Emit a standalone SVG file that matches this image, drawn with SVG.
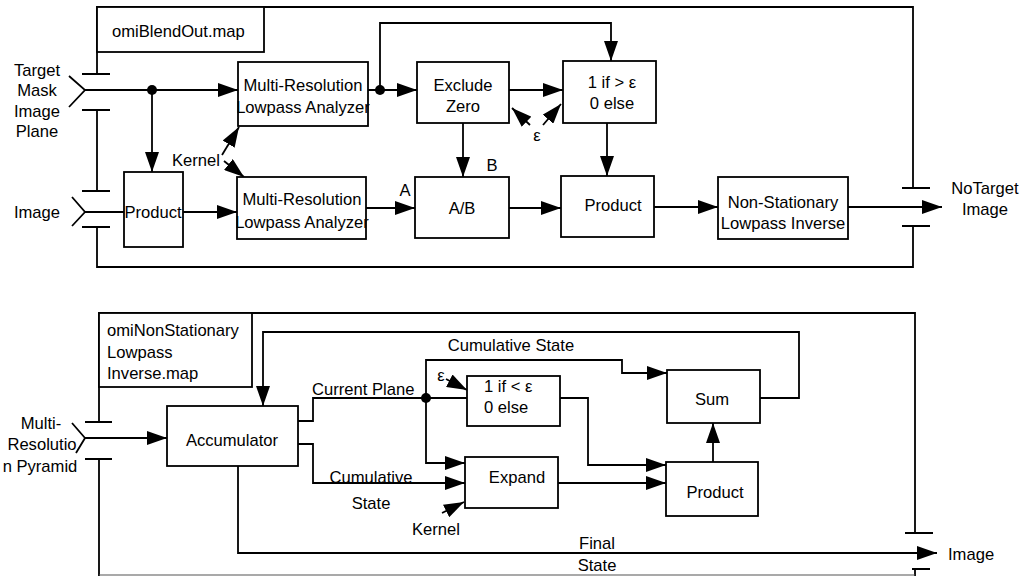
<svg xmlns="http://www.w3.org/2000/svg" width="1024" height="576" viewBox="0 0 1024 576">
<style>
text{font-family:"Liberation Sans",Arial,sans-serif;font-size:16.6px;fill:#000}
.box{fill:#fff;stroke:#000;stroke-width:1.8}
.ln{fill:none;stroke:#000;stroke-width:1.8}
.c{text-anchor:middle}
.ar{marker-end:url(#arr)}
</style>
<defs>
<marker id="arr" viewBox="0 0 20 14" refX="20" refY="7" markerWidth="20" markerHeight="14" markerUnits="userSpaceOnUse" orient="auto"><path d="M0,0 L20,7 L0,14 z" fill="#000"/></marker>
</defs>
<rect width="1024" height="576" fill="#fff"/>

<g id="frame-top">
<path class="ln" d="M97,74 V7 H913 V188 M97,110 V191 M97,227 V267 H913 V226"/>
<path class="ln" d="M82,74 H110 M82,110 H110 M82,191 H110 M82,227 H110 M902,188 H930 M902,226 H930"/>
<path class="ln" d="M69,76 L85,90 L69,107 M72,197 L85,212 L72,226"/>
</g>
<g id="label-top"><rect class="box" x="97" y="7" width="167" height="45"/><text x="112" y="37">omiBlendOut.map</text></g>
<g id="port-target"><text class="c" x="37" y="76">Target</text><text class="c" x="37" y="96">Mask</text><text class="c" x="37" y="117">Image</text><text class="c" x="37" y="137">Plane</text></g>
<g id="port-image"><text class="c" x="37" y="218">Image</text></g>
<g id="port-notarget"><text class="c" x="985" y="194">NoTarget</text><text class="c" x="985" y="215">Image</text></g>

<g id="connectors-top">
<path class="ln ar" d="M85,90 H238"/>
<path class="ln ar" d="M152,90 V172"/>
<path class="ln" d="M85,212 H124"/>
<path class="ln ar" d="M183,212 H237"/>
<path class="ln ar" d="M368,90 H417"/>
<path class="ln ar" d="M380,90 V23 H611 V61"/>
<path class="ln ar" d="M509,90 H563"/>
<path class="ln ar" d="M463,123 V177"/>
<path class="ln ar" d="M366,208 H415"/>
<path class="ln ar" d="M509,208 H561"/>
<path class="ln ar" d="M607,123 V176"/>
<path class="ln ar" d="M654,207 H718"/>
<path class="ln ar" d="M848,207 H942"/>
<path class="ln ar" d="M222,155 L239,127"/>
<path class="ln ar" d="M224,161 L244,177"/>
<path class="ln ar" d="M530,125 L512,108"/>
<path class="ln ar" d="M543,125 L561,104"/>
<circle cx="152" cy="90" r="5"/>
<circle cx="380" cy="90" r="5"/>
<text x="172" y="166">Kernel</text>
<text class="c" x="537" y="141">ε</text>
<text class="c" x="405" y="196">A</text>
<text class="c" x="492" y="171">B</text>
</g>

<g id="product1"><rect class="box" x="124" y="172" width="59" height="75"/><text class="c" x="153" y="218">Product</text></g>
<g id="mrla1"><rect class="box" x="238" y="62" width="130" height="64"/><text class="c" x="303" y="91">Multi-Resolution</text><text class="c" x="303" y="113">Lowpass Analyzer</text></g>
<g id="mrla2"><rect class="box" x="237" y="177" width="129" height="62"/><text class="c" x="302" y="205">Multi-Resolution</text><text class="c" x="302" y="228">Lowpass Analyzer</text></g>
<g id="exclude"><rect class="box" x="417" y="62" width="92" height="61"/><text class="c" x="463" y="91">Exclude</text><text class="c" x="463" y="112">Zero</text></g>
<g id="thresh1"><rect class="box" x="563" y="61" width="93" height="62"/><text class="c" x="612" y="88">1 if &gt; ε</text><text class="c" x="612" y="109">0 else</text></g>
<g id="ab"><rect class="box" x="415" y="177" width="94" height="61"/><text class="c" x="462" y="214">A/B</text></g>
<g id="product2"><rect class="box" x="561" y="176" width="93" height="61"/><text class="c" x="613" y="211">Product</text></g>
<g id="nslinv"><rect class="box" x="718" y="177" width="130" height="62"/><text class="c" x="783" y="208">Non-Stationary</text><text class="c" x="783" y="229">Lowpass Inverse</text></g>

<g id="frame-bottom">
<path class="ln" d="M99,422 V313 H915 V533 M99,459 V576 M915,569 V576"/>
<path class="ln" d="M85,422 H112 M85,459 H112 M905,533 H933 M912,569 H930"/>
<path d="M99,575 H915" stroke="#555" stroke-width="1.2" fill="none"/>
<path class="ln" d="M72,423 L85,438 L76,453"/>
</g>
<g id="label-bottom"><rect class="box" x="99" y="313" width="153" height="74"/><text x="107" y="336">omiNonStationary</text><text x="107" y="358">Lowpass</text><text x="107" y="379">Inverse.map</text></g>
<g id="port-pyramid"><text class="c" x="41" y="429">Multi-</text><text class="c" x="42" y="450">Resolutio</text><text class="c" x="40" y="472">n Pyramid</text></g>
<g id="port-out"><text x="948" y="560">Image</text></g>

<g id="connectors-bottom">
<path class="ln ar" d="M85,438 H167"/>
<path class="ln" d="M298,421 H313 V398 H467"/>
<path class="ln ar" d="M298,444 H313 V483 H465"/>
<path class="ln ar" d="M426,398 V463 H465"/>
<path class="ln ar" d="M426,398 V360 H622 V373 H667"/>
<path class="ln ar" d="M560,398 H588 V465 H666"/>
<path class="ln ar" d="M558,483 H666"/>
<path class="ln ar" d="M713,462 V423"/>
<path class="ln ar" d="M760,398 H799 V332 H263 V406"/>
<path class="ln ar" d="M238,466 V553 H937"/>
<path class="ln ar" d="M446,379 L467,390"/>
<path class="ln ar" d="M442,513 L464,502"/>
<circle cx="426" cy="398" r="5"/>
<text x="312" y="395">Current Plane</text>
<text class="c" x="511" y="351">Cumulative State</text>
<text class="c" x="371" y="483">Cumulative</text>
<text class="c" x="371" y="509">State</text>
<text class="c" x="436" y="535">Kernel</text>
<text class="c" x="441" y="381">ε</text>
<text class="c" x="597" y="549">Final</text>
<text class="c" x="597" y="571">State</text>
</g>

<g id="accumulator"><rect class="box" x="167" y="406" width="131" height="60"/><text class="c" x="232" y="446">Accumulator</text></g>
<g id="thresh2"><rect class="box" x="467" y="376" width="93" height="50"/><text x="484" y="392">1 if &lt; ε</text><text x="484" y="413">0 else</text></g>
<g id="expand"><rect class="box" x="465" y="457" width="93" height="51"/><text class="c" x="517" y="483">Expand</text></g>
<g id="sum"><rect class="box" x="667" y="370" width="93" height="53"/><text class="c" x="712" y="405">Sum</text></g>
<g id="product3"><rect class="box" x="666" y="462" width="92" height="54"/><text class="c" x="715" y="498">Product</text></g>
</svg>
